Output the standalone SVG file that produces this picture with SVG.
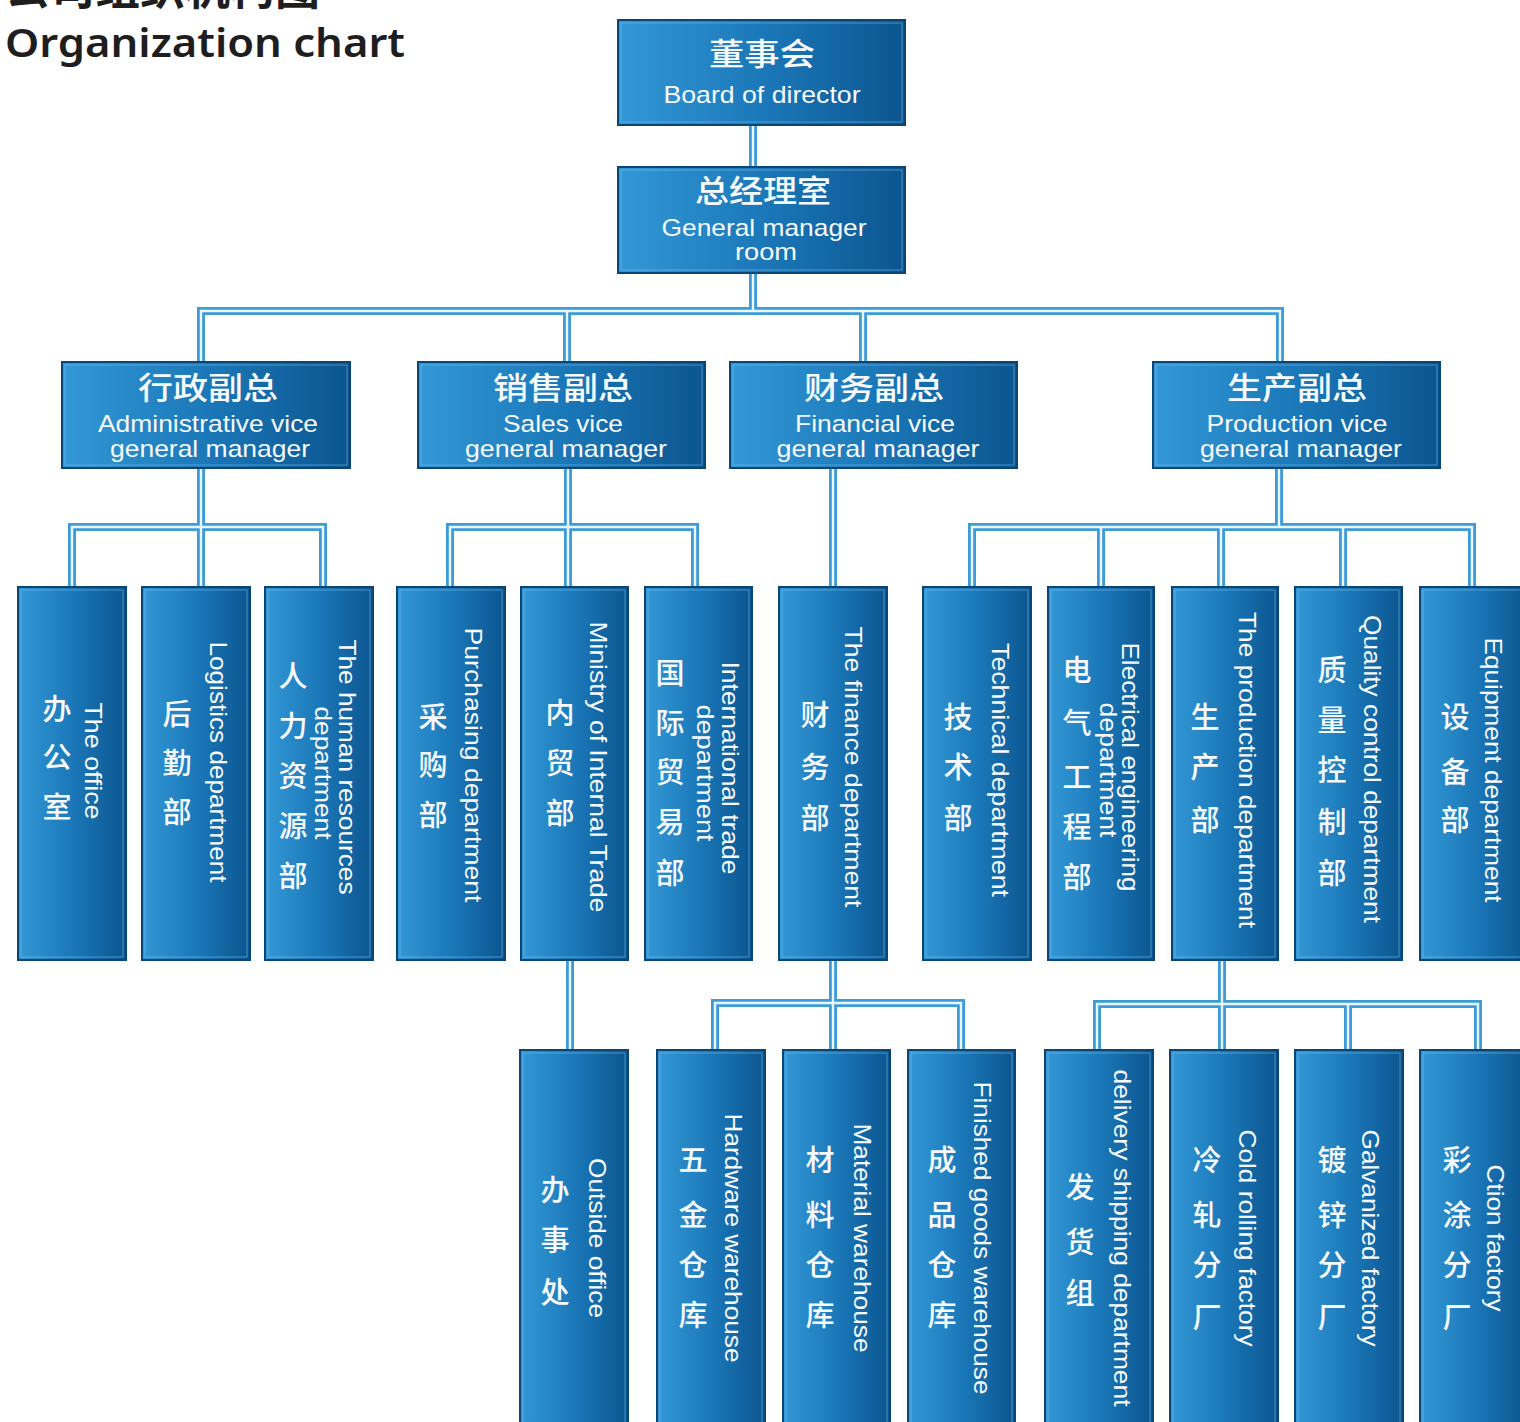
<svg xmlns="http://www.w3.org/2000/svg" width="1520" height="1422" viewBox="0 0 1520 1422">
<defs>
<linearGradient id="boxGrad" x1="0" y1="0" x2="1" y2="0">
<stop offset="0" stop-color="#3398d6"/>
<stop offset="0.5" stop-color="#1b78b9"/>
<stop offset="1" stop-color="#0b558f"/>
</linearGradient>
<style>
.box{fill:url(#boxGrad);stroke:#0a4574;stroke-width:2}
.hl{fill:none;stroke:#7cc3ee;stroke-opacity:0.55;stroke-width:1}
.pipeO{fill:none;stroke:#3d9bd8;stroke-width:8;stroke-linejoin:miter}
.pipeI{fill:none;stroke:#eaf6fd;stroke-width:2.4;stroke-linejoin:miter}
text{fill:#f7fafd}
.en{font-family:"Liberation Sans",Arial,sans-serif;font-size:24px;text-anchor:middle}
.cnH{font-family:"Noto Sans CJK SC","Noto Sans",sans-serif;font-size:31px;font-weight:500;text-anchor:middle}
.cnV{font-family:"Noto Sans CJK SC","Noto Sans",sans-serif;font-size:29px;font-weight:500;text-anchor:middle}
.enV{font-family:"Liberation Sans",Arial,sans-serif;font-size:24px;text-anchor:middle}
.title{fill:#1e1e1e}
</style>
</defs>
<rect width="1520" height="1422" fill="#ffffff"/>

<g id="title">
<text class="title" x="5" y="5" font-family="'Noto Sans CJK SC',sans-serif" font-size="44" font-weight="bold" textLength="315" lengthAdjust="spacingAndGlyphs">公司组织机构图</text>
<text class="title" x="5" y="57" font-family="'Noto Sans',sans-serif" font-size="40" font-weight="600" textLength="400" lengthAdjust="spacingAndGlyphs">Organization chart</text>
</g>

<g id="connectors">
<path class="pipeO" d="M753 125V167M753 273V311M201 362V311H1280V362M567 311V362M863 311V362M201 468V527M72 587V527H323V587M201 527V587M568 468V527M450 587V527H695V587M568 527V587M833 468V587M1279 468V527M972 587V527H1472V587M1101 527V587M1221 527V587M1343 527V587M570 960V1050M833 960V1003M715 1050V1003H961V1050M833 1003V1050M1222 960V1004M1097 1050V1004H1478V1050M1222 1004V1050M1348 1004V1050"/>
<path class="pipeI" d="M753 125V167M753 273V311M201 362V311H1280V362M567 311V362M863 311V362M201 468V527M72 587V527H323V587M201 527V587M568 468V527M450 587V527H695V587M568 527V587M833 468V587M1279 468V527M972 587V527H1472V587M1101 527V587M1221 527V587M1343 527V587M570 960V1050M833 960V1003M715 1050V1003H961V1050M833 1003V1050M1222 960V1004M1097 1050V1004H1478V1050M1222 1004V1050M1348 1004V1050"/>
</g>

<g id="n-board">
<rect class="box" x="618" y="20" width="287" height="105"/>
<rect class="hl" x="621" y="23" width="281" height="99"/>
<text class="cnH" x="762" y="65" textLength="106" lengthAdjust="spacingAndGlyphs">董事会</text>
<text class="en" x="762" y="103" textLength="197" lengthAdjust="spacingAndGlyphs">Board of director</text>
</g>

<g id="n-gm">
<rect class="box" x="618" y="167" width="287" height="106"/>
<rect class="hl" x="621" y="170" width="281" height="100"/>
<text class="cnH" x="763" y="202" textLength="136" lengthAdjust="spacingAndGlyphs">总经理室</text>
<text class="en" x="764" y="236" textLength="205" lengthAdjust="spacingAndGlyphs">General manager</text>
<text class="en" x="766" y="260" textLength="62" lengthAdjust="spacingAndGlyphs">room</text>
</g>

<g id="n-admin-vp">
<rect class="box" x="62" y="362" width="288" height="106"/>
<rect class="hl" x="65" y="365" width="282" height="100"/>
<text class="cnH" x="208" y="399" textLength="140" lengthAdjust="spacingAndGlyphs">行政副总</text>
<text class="en" x="208" y="432" textLength="220" lengthAdjust="spacingAndGlyphs">Administrative vice</text>
<text class="en" x="210" y="457" textLength="200" lengthAdjust="spacingAndGlyphs">general manager</text>
</g>

<g id="n-sales-vp">
<rect class="box" x="418" y="362" width="287" height="106"/>
<rect class="hl" x="421" y="365" width="281" height="100"/>
<text class="cnH" x="563" y="399" textLength="140" lengthAdjust="spacingAndGlyphs">销售副总</text>
<text class="en" x="563" y="432" textLength="120" lengthAdjust="spacingAndGlyphs">Sales vice</text>
<text class="en" x="566" y="457" textLength="202" lengthAdjust="spacingAndGlyphs">general manager</text>
</g>

<g id="n-fin-vp">
<rect class="box" x="730" y="362" width="287" height="106"/>
<rect class="hl" x="733" y="365" width="281" height="100"/>
<text class="cnH" x="874" y="399" textLength="140" lengthAdjust="spacingAndGlyphs">财务副总</text>
<text class="en" x="875" y="432" textLength="160" lengthAdjust="spacingAndGlyphs">Financial vice</text>
<text class="en" x="878" y="457" textLength="203" lengthAdjust="spacingAndGlyphs">general manager</text>
</g>

<g id="n-prod-vp">
<rect class="box" x="1153" y="362" width="287" height="106"/>
<rect class="hl" x="1156" y="365" width="281" height="100"/>
<text class="cnH" x="1297" y="399" textLength="140" lengthAdjust="spacingAndGlyphs">生产副总</text>
<text class="en" x="1297" y="432" textLength="181" lengthAdjust="spacingAndGlyphs">Production vice</text>
<text class="en" x="1301" y="457" textLength="202" lengthAdjust="spacingAndGlyphs">general manager</text>
</g>

<g id="n-office">
<rect class="box" x="18" y="587" width="108" height="373"/>
<rect class="hl" x="21" y="590" width="102" height="367"/>
<text class="cnV"><tspan x="57" y="720">办</tspan><tspan x="57" y="768">公</tspan><tspan x="57" y="818">室</tspan></text>
<text class="enV" transform="translate(93 761) rotate(90)" y="8" textLength="117" lengthAdjust="spacingAndGlyphs">The office</text>
</g>

<g id="n-logistics">
<rect class="box" x="142" y="587" width="108" height="373"/>
<rect class="hl" x="145" y="590" width="102" height="367"/>
<text class="cnV"><tspan x="177" y="725">后</tspan><tspan x="177" y="774">勤</tspan><tspan x="177" y="823">部</tspan></text>
<text class="enV" transform="translate(218 762) rotate(90)" y="8" textLength="241" lengthAdjust="spacingAndGlyphs">Logistics department</text>
</g>

<g id="n-hr">
<rect class="box" x="265" y="587" width="108" height="373"/>
<rect class="hl" x="268" y="590" width="102" height="367"/>
<text class="cnV"><tspan x="293" y="687">人</tspan><tspan x="293" y="737">力</tspan><tspan x="293" y="787">资</tspan><tspan x="293" y="837">源</tspan><tspan x="293" y="887">部</tspan></text>
<text class="enV" transform="translate(347 767) rotate(90)" y="8" textLength="255" lengthAdjust="spacingAndGlyphs">The human resources</text>
<text class="enV" transform="translate(323 773) rotate(90)" y="8" textLength="133" lengthAdjust="spacingAndGlyphs">department</text>
</g>

<g id="n-purchasing">
<rect class="box" x="397" y="587" width="108" height="373"/>
<rect class="hl" x="400" y="590" width="102" height="367"/>
<text class="cnV"><tspan x="433" y="728">采</tspan><tspan x="433" y="776">购</tspan><tspan x="433" y="826">部</tspan></text>
<text class="enV" transform="translate(473 765) rotate(90)" y="8" textLength="275" lengthAdjust="spacingAndGlyphs">Purchasing department</text>
</g>

<g id="n-internal">
<rect class="box" x="521" y="587" width="107" height="373"/>
<rect class="hl" x="524" y="590" width="101" height="367"/>
<text class="cnV"><tspan x="560" y="724">内</tspan><tspan x="560" y="774">贸</tspan><tspan x="560" y="824">部</tspan></text>
<text class="enV" transform="translate(598 767) rotate(90)" y="8" textLength="291" lengthAdjust="spacingAndGlyphs">Ministry of Internal Trade</text>
</g>

<g id="n-intl">
<rect class="box" x="645" y="587" width="107" height="373"/>
<rect class="hl" x="648" y="590" width="101" height="367"/>
<text class="cnV"><tspan x="670" y="684">国</tspan><tspan x="670" y="734">际</tspan><tspan x="670" y="783">贸</tspan><tspan x="670" y="833">易</tspan><tspan x="670" y="884">部</tspan></text>
<text class="enV" transform="translate(730 768) rotate(90)" y="8" textLength="213" lengthAdjust="spacingAndGlyphs">International trade</text>
<text class="enV" transform="translate(705 773) rotate(90)" y="8" textLength="137" lengthAdjust="spacingAndGlyphs">department</text>
</g>

<g id="n-finance">
<rect class="box" x="779" y="587" width="108" height="373"/>
<rect class="hl" x="782" y="590" width="102" height="367"/>
<text class="cnV"><tspan x="815" y="726">财</tspan><tspan x="815" y="778">务</tspan><tspan x="815" y="829">部</tspan></text>
<text class="enV" transform="translate(853 767) rotate(90)" y="8" textLength="281" lengthAdjust="spacingAndGlyphs">The finance department</text>
</g>

<g id="n-technical">
<rect class="box" x="923" y="587" width="108" height="373"/>
<rect class="hl" x="926" y="590" width="102" height="367"/>
<text class="cnV"><tspan x="958" y="728">技</tspan><tspan x="958" y="778">术</tspan><tspan x="958" y="829">部</tspan></text>
<text class="enV" transform="translate(1000 770) rotate(90)" y="8" textLength="254" lengthAdjust="spacingAndGlyphs">Technical department</text>
</g>

<g id="n-electrical">
<rect class="box" x="1048" y="587" width="106" height="373"/>
<rect class="hl" x="1051" y="590" width="100" height="367"/>
<text class="cnV"><tspan x="1077" y="681">电</tspan><tspan x="1077" y="734">气</tspan><tspan x="1077" y="788">工</tspan><tspan x="1077" y="838">程</tspan><tspan x="1077" y="888">部</tspan></text>
<text class="enV" transform="translate(1130 767) rotate(90)" y="8" textLength="249" lengthAdjust="spacingAndGlyphs">Electrical engineering</text>
<text class="enV" transform="translate(1108 770) rotate(90)" y="8" textLength="135" lengthAdjust="spacingAndGlyphs">department</text>
</g>

<g id="n-production">
<rect class="box" x="1172" y="587" width="106" height="373"/>
<rect class="hl" x="1175" y="590" width="100" height="367"/>
<text class="cnV"><tspan x="1205" y="728">生</tspan><tspan x="1205" y="778">产</tspan><tspan x="1205" y="831">部</tspan></text>
<text class="enV" transform="translate(1247 770) rotate(90)" y="8" textLength="316" lengthAdjust="spacingAndGlyphs">The production department</text>
</g>

<g id="n-quality">
<rect class="box" x="1295" y="587" width="107" height="373"/>
<rect class="hl" x="1298" y="590" width="101" height="367"/>
<text class="cnV"><tspan x="1332" y="681">质</tspan><tspan x="1332" y="731">量</tspan><tspan x="1332" y="781">控</tspan><tspan x="1332" y="833">制</tspan><tspan x="1332" y="884">部</tspan></text>
<text class="enV" transform="translate(1372 769) rotate(90)" y="8" textLength="308" lengthAdjust="spacingAndGlyphs">Quality control department</text>
</g>

<g id="n-equipment">
<rect class="box" x="1420" y="587" width="108" height="373"/>
<rect class="hl" x="1423" y="590" width="102" height="367"/>
<text class="cnV"><tspan x="1455" y="728">设</tspan><tspan x="1455" y="783">备</tspan><tspan x="1455" y="831">部</tspan></text>
<text class="enV" transform="translate(1493 770) rotate(90)" y="8" textLength="265" lengthAdjust="spacingAndGlyphs">Equipment department</text>
</g>

<g id="n-outside">
<rect class="box" x="520" y="1050" width="108" height="390"/>
<rect class="hl" x="523" y="1053" width="102" height="384"/>
<text class="cnV"><tspan x="555" y="1201">办</tspan><tspan x="555" y="1251">事</tspan><tspan x="555" y="1303">处</tspan></text>
<text class="enV" transform="translate(597 1238) rotate(90)" y="8" textLength="160" lengthAdjust="spacingAndGlyphs">Outside office</text>
</g>

<g id="n-hardware">
<rect class="box" x="657" y="1050" width="108" height="390"/>
<rect class="hl" x="660" y="1053" width="102" height="384"/>
<text class="cnV"><tspan x="693" y="1171">五</tspan><tspan x="693" y="1226">金</tspan><tspan x="693" y="1276">仓</tspan><tspan x="693" y="1326">库</tspan></text>
<text class="enV" transform="translate(733 1238) rotate(90)" y="8" textLength="249" lengthAdjust="spacingAndGlyphs">Hardware warehouse</text>
</g>

<g id="n-material">
<rect class="box" x="783" y="1050" width="107" height="390"/>
<rect class="hl" x="786" y="1053" width="101" height="384"/>
<text class="cnV"><tspan x="820" y="1171">材</tspan><tspan x="820" y="1226">料</tspan><tspan x="820" y="1276">仓</tspan><tspan x="820" y="1326">库</tspan></text>
<text class="enV" transform="translate(862 1238) rotate(90)" y="8" textLength="229" lengthAdjust="spacingAndGlyphs">Material warehouse</text>
</g>

<g id="n-finished">
<rect class="box" x="908" y="1050" width="107" height="390"/>
<rect class="hl" x="911" y="1053" width="101" height="384"/>
<text class="cnV"><tspan x="942" y="1171">成</tspan><tspan x="942" y="1226">品</tspan><tspan x="942" y="1276">仓</tspan><tspan x="942" y="1326">库</tspan></text>
<text class="enV" transform="translate(982 1238) rotate(90)" y="8" textLength="313" lengthAdjust="spacingAndGlyphs">Finished goods warehouse</text>
</g>

<g id="n-delivery">
<rect class="box" x="1045" y="1050" width="108" height="390"/>
<rect class="hl" x="1048" y="1053" width="102" height="384"/>
<text class="cnV"><tspan x="1080" y="1198">发</tspan><tspan x="1080" y="1253">货</tspan><tspan x="1080" y="1304">组</tspan></text>
<text class="enV" transform="translate(1122 1238) rotate(90)" y="8" textLength="337" lengthAdjust="spacingAndGlyphs">delivery shipping department</text>
</g>

<g id="n-cold">
<rect class="box" x="1170" y="1050" width="108" height="390"/>
<rect class="hl" x="1173" y="1053" width="102" height="384"/>
<text class="cnV"><tspan x="1207" y="1171">冷</tspan><tspan x="1207" y="1226">轧</tspan><tspan x="1207" y="1276">分</tspan><tspan x="1207" y="1328">厂</tspan></text>
<text class="enV" transform="translate(1247 1238) rotate(90)" y="8" textLength="217" lengthAdjust="spacingAndGlyphs">Cold rolling factory</text>
</g>

<g id="n-galvanized">
<rect class="box" x="1295" y="1050" width="108" height="390"/>
<rect class="hl" x="1298" y="1053" width="102" height="384"/>
<text class="cnV"><tspan x="1332" y="1171">镀</tspan><tspan x="1332" y="1226">锌</tspan><tspan x="1332" y="1276">分</tspan><tspan x="1332" y="1328">厂</tspan></text>
<text class="enV" transform="translate(1370 1238) rotate(90)" y="8" textLength="217" lengthAdjust="spacingAndGlyphs">Galvanized factory</text>
</g>

<g id="n-ction">
<rect class="box" x="1420" y="1050" width="108" height="390"/>
<rect class="hl" x="1423" y="1053" width="102" height="384"/>
<text class="cnV"><tspan x="1457" y="1171">彩</tspan><tspan x="1457" y="1226">涂</tspan><tspan x="1457" y="1276">分</tspan><tspan x="1457" y="1328">厂</tspan></text>
<text class="enV" transform="translate(1495 1238) rotate(90)" y="8" textLength="147" lengthAdjust="spacingAndGlyphs">Ction factory</text>
</g>
</svg>
